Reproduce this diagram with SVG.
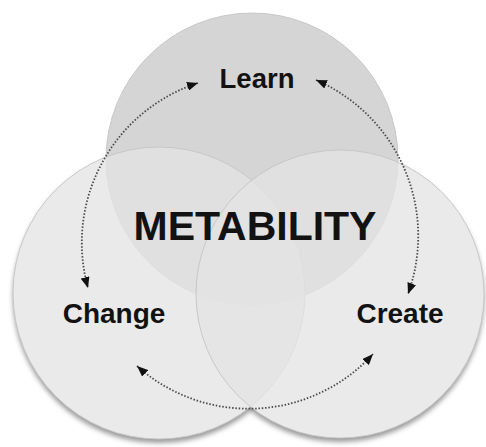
<svg xmlns="http://www.w3.org/2000/svg" width="486" height="447" viewBox="0 0 486 447">
  <style>
    .lbl { font-family: "Liberation Sans", Arial, sans-serif; font-weight: bold; fill: #121212; text-anchor: middle; }
    .bot { fill: #e4e4e4; fill-opacity: 0.77; stroke: #c4c4c4; stroke-width: 0.9; }
    .conn { fill: none; stroke: #4a4a4a; stroke-width: 1.8; stroke-dasharray: 1.5 1.8; marker-start: url(#ah); marker-end: url(#ah); }
  </style>
  <defs>
    <marker id="ah" viewBox="0 0 11 9" refX="11" refY="4.5" markerWidth="11" markerHeight="9" markerUnits="userSpaceOnUse" orient="auto-start-reverse">
      <path d="M0,0 L11,4.5 L0,9 z" fill="#111"/>
    </marker>
    <filter id="blur" x="-20%" y="-20%" width="140%" height="140%">
      <feGaussianBlur stdDeviation="2.4"/>
    </filter>
    <mask id="outside" maskUnits="userSpaceOnUse" x="0" y="0" width="486" height="447">
      <rect x="0" y="0" width="486" height="447" fill="#fff"/>
      <circle cx="159" cy="293" r="146" fill="#000"/>
      <circle cx="340" cy="294" r="144" fill="#000"/>
      <circle cx="252" cy="159" r="146" fill="#000"/>
    </mask>
  </defs>

  <g id="node-learn">
    <circle cx="252" cy="159" r="146" fill="#d5d5d5" stroke="#c4c4c4" stroke-width="0.9"/>
    <text class="lbl" x="257" y="88" font-size="27.5">Learn</text>
  </g>

  <g id="shadow" mask="url(#outside)">
    <g filter="url(#blur)" fill="#808080" fill-opacity="0.8">
      <circle cx="159" cy="297" r="146"/>
      <circle cx="340" cy="298" r="144"/>
    </g>
  </g>

  <g id="node-change">
    <circle class="bot" cx="159" cy="293" r="146"/>
    <text class="lbl" x="114" y="323" font-size="28">Change</text>
  </g>

  <g id="node-create">
    <circle class="bot" cx="340" cy="294" r="144"/>
    <text class="lbl" x="400" y="323" font-size="28">Create</text>
  </g>

  <g id="node-metability">
    <text class="lbl" x="255" y="240" font-size="41">METABILITY</text>
  </g>

  <g id="connectors">
    <path class="conn" d="M 198 83 A 168 168 0 0 0 88 288"/>
    <path class="conn" d="M 316 80 A 170 170 0 0 1 408 294"/>
    <path class="conn" d="M 137 366 A 168 168 0 0 0 373 354"/>
  </g>
</svg>
